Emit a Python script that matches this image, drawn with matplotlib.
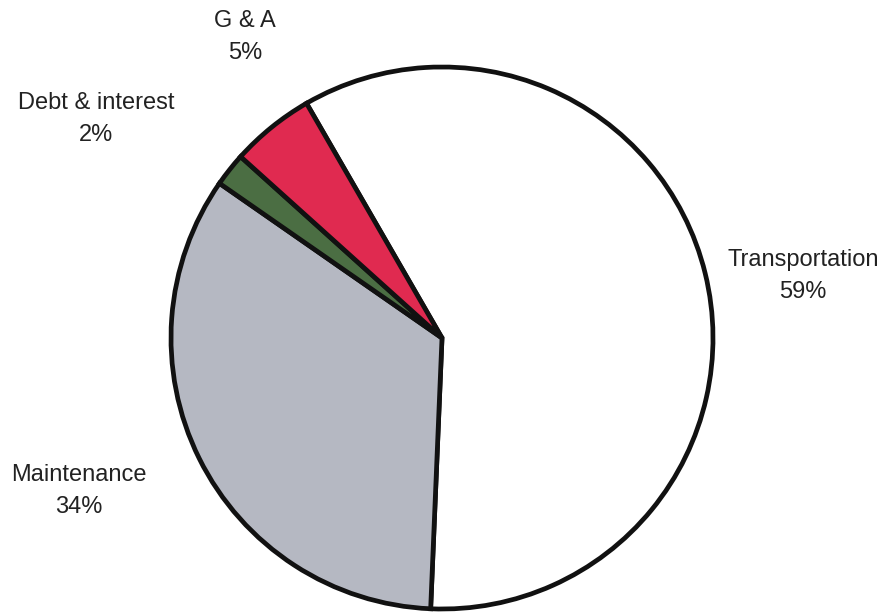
import matplotlib.pyplot as plt

# operating cost shares, percent
categories = ["Transportation", "Maintenance", "Debt & interest", "G & A"]
shares = [59, 34, 2, 5]
colors = ["#ffffff", "#b5b8c2", "#4b6e43", "#e02a50"]

plt.rcParams["font.family"] = ["Liberation Sans", "DejaVu Sans"]

W, H = 888, 615
fig = plt.figure(figsize=(W / 100, H / 100), dpi=100)
ax = fig.add_axes([0, 0, 1, 1])

ax.pie(shares, colors=colors, startangle=120, counterclock=False,
       center=(442, H - 338), radius=271,
       wedgeprops=dict(edgecolor="#111111", linewidth=3.4, joinstyle="miter"))

# label block centres in figure pixels (x, y from top)
label_pos = {
    "Transportation": (803, 276),
    "Maintenance": (79, 491),
    "Debt & interest": (96, 119),
    "G & A": (245, 37),
}
for name, pct in zip(categories, shares):
    x, y = label_pos[name]
    ax.text(x, H - y, f"{name}\n{pct}%", ha="center", va="center",
            fontsize=17, color="#222222", linespacing=1.55)

ax.set_xlim(0, W)
ax.set_ylim(0, H)
ax.set_aspect("equal")
ax.axis("off")

fig.savefig("out.png", dpi=100)
